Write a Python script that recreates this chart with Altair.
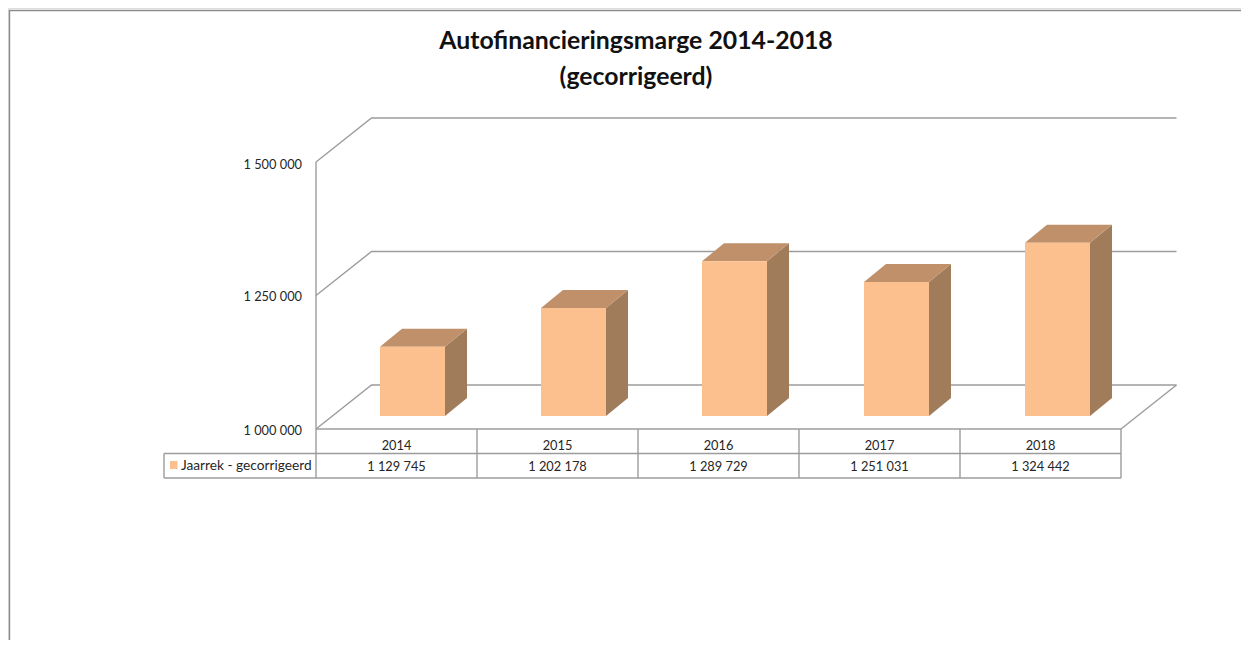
import altair as alt
import pandas as pd

years = ["2014", "2015", "2016", "2017", "2018"]
values = [1129745, 1202178, 1289729, 1251031, 1324442]
y_ticks = [1000000, 1250000, 1500000]
series_name = "Jaarrek - gecorrigeerd"
title_lines = ["Autofinancieringsmarge 2014-2018", "(gecorrigeerd)"]

W, H = 1233, 632
M = 8
X0, CELL = 316.0, 161.0      # page px of the first category edge, cell width
Y0, PX_PER_V = 429.0, 133.5 / 250000   # page px of the axis minimum, px per unit
VMIN = 1000000
FONT = "Lato"
GREY = "#9c9c9c"
INK = "#262626"

def ux(px):
    return (px - X0) / CELL

def uy(px):
    return VMIN + (Y0 - px) / PX_PER_V

x_scale = alt.Scale(domain=[ux(M), ux(M + W)], range=[0, W], nice=False, zero=False)
y_scale = alt.Scale(domain=[uy(M + H), uy(M)], range=[H, 0], nice=False, zero=False)

X = alt.X("x:Q", axis=None, scale=x_scale)
Y = alt.Y("y:Q", axis=None, scale=y_scale)

# ---- bars (front, top and side faces)
BAR_OFF = [64, 64, 64, 65, 65]
BAR_W = 65.0
DX, DY = 22.0, 18.0
base_gap = 13.0 / PX_PER_V  # the bars stand this far behind the front edge

front, top, side = [], [], []
for i, (yr, v) in enumerate(zip(years, values)):
    x1 = i + BAR_OFF[i] / CELL
    x2 = x1 + BAR_W / CELL
    d = DX / CELL
    dv = DY / PX_PER_V
    t = v + base_gap
    b = VMIN + base_gap
    front.append({"x": x1, "x2": x2, "y": t, "y2": b})
    top += [
        {"g": yr, "x": x1, "y": t, "y2": t},
        {"g": yr, "x": x1 + d, "y": t + dv, "y2": t},
        {"g": yr, "x": x2, "y": t + dv, "y2": t},
        {"g": yr, "x": x2 + d, "y": t + dv, "y2": t + dv},
    ]
    side += [
        {"g": yr, "x": x2, "y": t, "y2": b},
        {"g": yr, "x": x2 + d, "y": t + dv, "y2": b + dv},
    ]

front_l = alt.Chart(pd.DataFrame(front)).mark_rect(color="#FCC08E").encode(
    x=X, x2="x2:Q", y=Y, y2="y2:Q")
top_l = alt.Chart(pd.DataFrame(top)).mark_area(color="#BF9069", orient="vertical", interpolate="linear").encode(
    x=X, y=Y, y2="y2:Q", detail="g:N")
side_l = alt.Chart(pd.DataFrame(side)).mark_area(color="#A07C5B", orient="vertical", interpolate="linear").encode(
    x=X, y=Y, y2="y2:Q", detail="g:N")

# ---- wall, floor and table lines
WX, WY = 55.5, 44.0
n = len(years)
lines = []
def poly(name, pts):
    for k, (a, b) in enumerate(pts):
        lines.append({"g": name, "o": k, "x": a, "y": b})

wall_d, wall_v = WX / CELL, WY / PX_PER_V
for tv in y_ticks:
    poly(f"grid{tv}", [(0, tv), (wall_d, tv + wall_v), (n + wall_d, tv + wall_v)])
poly("axis", [(0, y_ticks[0]), (0, y_ticks[-1])])
poly("floor", [(n + wall_d, VMIN + wall_v), (n, VMIN)])

R1, R2 = uy(453.5), uy(478)
poly("row0", [(0, VMIN), (n, VMIN)])
poly("row1", [(ux(164), R1), (n, R1)])
poly("row2", [(ux(164), R2), (n, R2)])
poly("cellL", [(ux(164), R1), (ux(164), R2)])
for i in range(n + 1):
    poly(f"col{i}", [(i, VMIN), (i, R2)])

lines_l = alt.Chart(pd.DataFrame(lines)).mark_line(color=GREY, strokeWidth=1.4).encode(
    x=X, y=Y, detail="g:N", order="o:Q")

# ---- outer frame of the picture
lines2 = [{"g": "f", "o": 0, "x": ux(9.5), "y": uy(M + H)},
          {"g": "f", "o": 1, "x": ux(9.5), "y": uy(10.5)},
          {"g": "f", "o": 2, "x": ux(M + W), "y": uy(10.5)}]
frame_l = alt.Chart(pd.DataFrame(lines2)).mark_line(color="#8c8c8c", strokeWidth=1.4).encode(
    x=X, y=Y, order="o:Q")

# ---- texts
fmt = lambda v: f"{v:,}".replace(",", " ")
tick_df = pd.DataFrame({"x": [ux(302)] * 3, "y": [uy(y) for y in (430.5, 296.5, 164.5)],
                        "t": [fmt(v) for v in y_ticks]})
tick_l = alt.Chart(tick_df).mark_text(font=FONT, fontSize=12.8, align="right", baseline="middle", color=INK).encode(
    x=X, y=Y, text="t:N")

cell_df = pd.DataFrame(
    [{"x": i + 0.5, "y": uy(445.5), "t": yr} for i, yr in enumerate(years)]
    + [{"x": i + 0.5, "y": uy(466.5), "t": fmt(v)} for i, v in enumerate(values)])
cell_l = alt.Chart(cell_df).mark_text(font=FONT, fontSize=12.8, align="center", baseline="middle", color=INK).encode(
    x=X, y=Y, text="t:N")

leg_text = alt.Chart(pd.DataFrame([{"x": ux(181), "y": uy(466), "t": series_name}])).mark_text(
    font=FONT, fontSize=13.7, align="left", baseline="middle", color=INK).encode(x=X, y=Y, text="t:N")
leg_sw = alt.Chart(pd.DataFrame([{"x": ux(170), "x2": ux(177.5), "y": uy(461), "y2": uy(469)}])).mark_rect(
    color="#FCC08E").encode(x=X, x2="x2:Q", y=Y, y2="y2:Q")

chart = alt.layer(frame_l, lines_l, side_l, top_l, front_l, leg_sw, tick_l, cell_l, leg_text).properties(
    width=W, height=H, padding=0, autosize=alt.AutoSizeParams(type="none"),
    title=alt.TitleParams(text=title_lines, font=FONT, fontSize=24.8, fontWeight="bold", color="#111111",
                          anchor="middle", align="center", baseline="middle", lineHeight=36,
                          orient="top", offset=0, dx=11.5, dy=95),
).configure_view(stroke=None).configure(background="white")

chart.save("out.html", embed_options={"renderer": "svg", "actions": False})
